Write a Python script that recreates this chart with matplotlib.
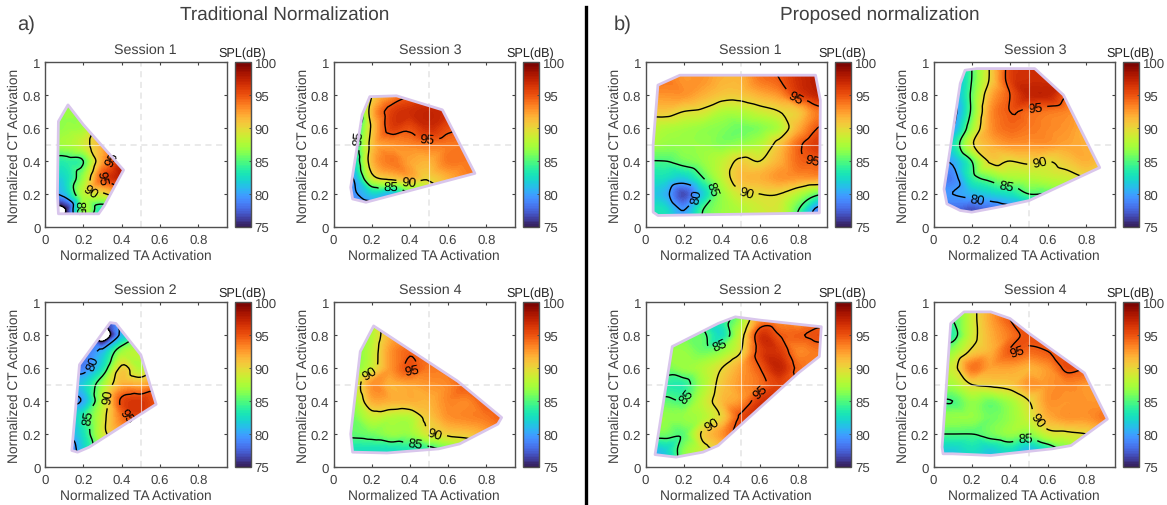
#!/usr/bin/python3
# -*-coding: utf-8 -*

import numpy as np
import matplotlib
matplotlib.use('Agg')
import matplotlib.pyplot as plt
import matplotlib.tri as mtri
from matplotlib.patches import Polygon

plt.rcParams['font.family'] = ['Liberation Sans', 'DejaVu Sans']
plt.rcParams['text.hinting'] = 'none'

# SPL on a 0.1 grid: rows are CT = 0.9 ... 0, columns TA = 0 ... 0.9
ta_axis = [0.0, 0.1, 0.2, 0.3, 0.4, 0.5, 0.6, 0.7, 0.8, 0.9]
ct_axis = [0.9, 0.8, 0.7, 0.6, 0.5, 0.4, 0.3, 0.2, 0.1, 0.0]

trad_s1 = [[86, 87, 88, 90, 92, 92, 92, 92, 92, 92],
           [86, 87, 88, 90, 92, 92, 92, 92, 92, 92],
           [86, 87, 87, 88, 91, 92, 92, 92, 92, 92],
           [86, 87, 87.5, 91, 92, 92, 92, 92, 92, 92],
           [87, 87.5, 89, 92, 93, 93, 93, 93, 93, 93],
           [84, 84, 85, 92.5, 97, 97, 97, 97, 97, 97],
           [83, 82.5, 87, 95.2, 98, 99, 99, 99, 99, 99],
           [80, 81, 88, 89.5, 92, 91, 91, 91, 91, 91],
           [79, 74.5, 87, 83, 85, 85, 85, 85, 85, 85],
           [84, 79, 87, 82, 85, 85, 85, 85, 85, 85]]

trad_s2 = [[78, 78, 76, 76, 82, 85, 85, 85, 85, 85],
           [78, 78, 78, 72, 81, 85, 88, 88, 88, 88],
           [79, 79, 78.5, 81, 87, 88.5, 89, 89, 89, 89],
           [80, 80, 79, 83, 90.5, 88, 91, 91, 91, 91],
           [80, 80, 82, 87, 92, 92, 94, 94, 94, 94],
           [79, 79, 80.5, 88, 95.5, 96.5, 95, 95, 95, 95],
           [80, 80, 84, 89, 94, 96, 94, 94, 94, 94],
           [80, 80, 83, 89, 92, 93, 93, 93, 93, 93],
           [77, 77, 82, 87, 90, 90, 90, 90, 90, 90],
           [77, 77, 82, 87, 90, 90, 90, 90, 90, 90]]

trad_s3 = [[84, 84, 90, 93, 95, 95, 95, 95, 95, 95],
           [84, 84, 90, 93, 95, 96, 96, 96, 96, 96],
           [80, 80, 91.5, 96, 97, 97.5, 97, 97, 97, 97],
           [82, 82, 90.5, 96, 95.5, 97, 95.5, 95, 95, 95],
           [82.5, 82.5, 91, 93, 93.5, 94, 94, 94, 94, 94],
           [82, 82, 91.5, 94, 92.5, 92, 94, 94, 94, 94],
           [80, 80, 89, 91, 92, 90.5, 92, 93.5, 94, 94],
           [79.5, 79.5, 82, 81, 85, 88, 90, 92, 92, 92],
           [78, 78, 78, 80, 82, 84, 86, 88, 88, 88],
           [78, 78, 78, 80, 82, 84, 86, 88, 88, 88]]

trad_s4 = [[85, 85, 88, 92, 93, 93, 93, 93, 93, 93],
           [85, 85, 88, 92, 93, 93, 93, 93, 93, 93],
           [86, 86, 88.5, 93, 94.7, 94.5, 94, 94, 94, 94],
           [86, 86, 89, 93, 95.3, 94, 94, 95, 95, 95],
           [88, 88, 93, 92, 92.5, 93, 93.5, 95, 95, 95],
           [87, 87, 92, 92, 92, 92, 93.5, 93.5, 95, 95],
           [86, 86, 88.5, 88, 88, 91, 93, 93.5, 94, 95],
           [85.5, 85.5, 86, 87, 87, 89.5, 90.5, 91, 92, 93],
           [83, 83, 83, 83, 83.5, 84, 85.5, 87, 88, 88],
           [83, 83, 83, 83, 83.5, 84, 85.5, 87, 88, 88]]

prop_s1 = [[94, 94, 93, 93, 92, 92, 94, 95, 97, 98],
           [93, 93, 93, 92, 91, 91, 92, 93, 96, 97.5],
           [91, 91, 90, 89.5, 88, 88, 89, 90, 91, 94],
           [89, 88, 87.5, 87, 86.5, 86, 86.5, 88, 92, 95],
           [88, 87, 87, 87, 86.5, 87, 88, 91, 94.5, 96.5],
           [85, 85, 86, 87, 88.5, 90.5, 90, 92, 94.5, 95],
           [83, 83, 82, 85, 88.5, 91.5, 92, 93, 93, 93],
           [82, 81, 77, 82, 87, 89.5, 90, 90, 88, 85.5],
           [83, 83, 80, 85, 87, 88, 89, 89, 85, 79],
           [83, 83, 80, 85, 87, 88, 89, 89, 85, 79]]

prop_s2 = [[85, 85, 85, 84, 84, 87, 93, 93, 92, 94],
           [85, 85, 86, 85.5, 83, 89, 96.5, 95, 94.8, 95.5],
           [87, 87, 87, 86, 87, 90, 96, 96.5, 93.5, 94],
           [86, 86, 87, 88, 90, 92.5, 95, 97.5, 94.5, 93.5],
           [84, 84, 84, 87.5, 91, 93, 94.3, 96, 95, 94],
           [85.5, 85.5, 85.2, 88.5, 91.5, 93, 96.5, 97, 96, 95],
           [87, 87, 87, 88, 90.5, 95.5, 97.5, 97, 96, 95],
           [86, 86, 85.5, 90.5, 93, 96, 96, 96, 96, 95],
           [80, 82, 86.5, 89, 90.5, 93, 93, 93, 93, 93],
           [80, 82, 86.5, 89, 90.5, 93, 93, 93, 93, 93]]

prop_s3 = [[80, 80, 85, 90.5, 96, 97, 97, 97, 97, 97],
           [80, 80, 85.5, 92, 95, 97.5, 97.5, 95, 95, 95],
           [79, 79, 85.5, 93, 95, 94.5, 94, 93.5, 93, 93],
           [80, 80, 87, 93, 94.5, 94, 93.5, 93, 92, 92],
           [83, 83, 89.5, 92, 93, 93, 93, 92.5, 92, 90],
           [80.5, 80.5, 85, 90.5, 90, 90.5, 90, 91, 92, 91],
           [79, 79, 84, 86, 87.5, 88, 88.5, 89, 90, 90],
           [80, 80, 81, 82, 83, 85, 85, 86, 87, 87],
           [78, 78, 77, 78, 79, 80, 81, 82, 83, 83],
           [78, 78, 77, 78, 79, 80, 81, 82, 83, 83]]

prop_s4 = [[85, 85, 89, 92.5, 95, 96, 96, 96, 96, 96],
           [84, 84, 89, 92, 94, 95.5, 95, 95, 95, 95],
           [87, 87, 90.5, 92, 95, 94.5, 95, 95, 95, 95],
           [89, 89, 94, 92.5, 92.5, 92, 93, 95.5, 95, 95],
           [87.5, 87.5, 90, 90.5, 91, 93, 93, 93.5, 93, 93],
           [85, 85, 87, 86, 87.5, 90, 93, 93, 93, 93],
           [87, 87, 87, 86, 87, 89, 92, 93, 93, 94],
           [85, 85, 85, 86, 87, 86.5, 89, 89.5, 90, 91],
           [82, 82, 83, 82, 83, 81, 83, 86, 88, 88],
           [82, 82, 83, 82, 83, 81, 83, 86, 88, 88]]

# outlines of the covered area
hull_trad_s1 = [(0.07, 0.08), (0.065, 0.2), (0.07, 0.64), (0.12, 0.74), (0.2, 0.62), (0.41, 0.345), (0.31, 0.13), (0.28, 0.08)]
hull_trad_s2 = [(0.14, 0.1), (0.17, 0.09), (0.23, 0.12), (0.58, 0.38), (0.5, 0.68), (0.37, 0.87), (0.34, 0.875), (0.18, 0.62)]
hull_trad_s3 = [(0.1, 0.17), (0.09, 0.24), (0.15, 0.68), (0.19, 0.79), (0.33, 0.795), (0.57, 0.71), (0.74, 0.325), (0.17, 0.15)]
hull_trad_s4 = [(0.1, 0.09), (0.09, 0.2), (0.14, 0.7), (0.21, 0.855), (0.65, 0.52), (0.88, 0.3), (0.86, 0.26), (0.66, 0.14), (0.55, 0.11), (0.28, 0.085)]
hull_prop_s1 = [(0.04, 0.09), (0.065, 0.07), (0.91, 0.085), (0.915, 0.77), (0.89, 0.92), (0.18, 0.92), (0.065, 0.86), (0.04, 0.5)]
hull_prop_s2 = [(0.05, 0.075), (0.16, 0.06), (0.3, 0.09), (0.38, 0.13), (0.8, 0.57), (0.91, 0.67), (0.92, 0.85), (0.6, 0.89), (0.47, 0.91), (0.38, 0.87), (0.14, 0.73)]
hull_prop_s3 = [(0.07, 0.14), (0.055, 0.23), (0.14, 0.87), (0.165, 0.95), (0.225, 0.96), (0.53, 0.96), (0.68, 0.8), (0.87, 0.36), (0.5, 0.16), (0.36, 0.125), (0.2, 0.09), (0.14, 0.1)]
hull_prop_s4 = [(0.05, 0.08), (0.045, 0.12), (0.09, 0.87), (0.16, 0.94), (0.3, 0.94), (0.4, 0.9), (0.5, 0.81), (0.79, 0.57), (0.91, 0.29), (0.72, 0.13), (0.62, 0.11), (0.3, 0.07), (0.1, 0.08)]

# where the contour labels sit
labels_trad_s1 = [(0.18, 0.12), (0.24, 0.22), (0.29, 0.3), (0.33, 0.42)]
labels_trad_s2 = [(0.26, 0.63), (0.235, 0.3), (0.33, 0.43), (0.47, 0.35)]
labels_trad_s3 = [(0.14, 0.54), (0.3, 0.24), (0.4, 0.33), (0.49, 0.55)]
labels_trad_s4 = [(0.18, 0.59), (0.53, 0.2), (0.43, 0.15), (0.41, 0.585)]
labels_prop_s1 = [(0.31, 0.22), (0.26, 0.19), (0.53, 0.22), (0.79, 0.8), (0.87, 0.4)]
labels_prop_s2 = [(0.39, 0.74), (0.19, 0.45), (0.35, 0.25), (0.6, 0.46)]
labels_prop_s3 = [(0.23, 0.16), (0.38, 0.25), (0.55, 0.41), (0.53, 0.74)]
labels_prop_s4 = [(0.48, 0.17), (0.53, 0.27), (0.43, 0.72)]

contour_levels = [75, 80, 85, 90, 95]
fill_levels = np.arange(75, 100.01, 0.25)
ct_ticks = [0, 0.2, 0.4, 0.6, 0.8, 1]
ct_tick_labels = ['0', '0.2', '0.4', '0.6', '0.8', '1']
ta_ticks = [0, 0.2, 0.4, 0.6, 0.8]
ta_tick_labels = ['0', '0.2', '0.4', '0.6', '0.8']
bar_ticks = [75, 80, 85, 90, 95, 100]

TEXT = '#404040'
W, H = 1167, 506


def px_axes(fig, x0, y0, x1, y1):
    return fig.add_axes([x0 / W, 1 - y1 / H, (x1 - x0) / W, (y1 - y0) / H])


def draw_panel(fig, box, bar_box, title, title_x, spl, hull, label_pos):
    x0, y0, x1, y1 = box
    ax = px_axes(fig, x0, y0, x1, y1)
    ax.set_xlim(0, 0.95)
    ax.set_ylim(0, 1)

    # pad one row/column so the hull edge is still inside the grid
    ta = np.array(ta_axis + [1.0])
    ct = np.array(ct_axis[::-1] + [1.0])
    z = np.array(spl, dtype=float)[::-1]
    z = np.pad(z, ((0, 1), (0, 1)), mode='edge')
    tx, ty = np.meshgrid(ta, ct)
    triang = mtri.Triangulation(tx.ravel(), ty.ravel())
    refiner = mtri.UniformTriRefiner(triang)
    interp = mtri.CubicTriInterpolator(triang, z.ravel(), kind='geom')
    fine_tri, fine_z = refiner.refine_field(z.ravel(), triinterpolator=interp, subdiv=3)

    outline = Polygon(hull, closed=True, facecolor='none', edgecolor='#d9c6ec', linewidth=2.0, joinstyle='round', zorder=5)
    ax.add_patch(outline)

    filled = ax.tricontourf(fine_tri, fine_z, levels=fill_levels, cmap='turbo', vmin=75, vmax=100, antialiased=False, zorder=1)
    filled.set_clip_path(outline)
    lines = ax.tricontour(fine_tri, fine_z, levels=contour_levels, colors='black', linewidths=1.0, zorder=2)
    lines.set_clip_path(outline)
    ax.clabel(lines, inline=True, fontsize=9.5, manual=label_pos, fmt='%d', colors='black')

    # dashed guides stay under the map, thin white line where they cross it
    ax.axvline(0.5, color='#e4e4e4', linewidth=1.1, linestyle=(0, (4, 3)), zorder=0.5)
    ax.axhline(0.5, color='#e4e4e4', linewidth=1.1, linestyle=(0, (4, 3)), zorder=0.5)
    for guide in (ax.axvline(0.5, color='white', linewidth=0.8, alpha=0.6, zorder=4),
                  ax.axhline(0.5, color='white', linewidth=0.8, alpha=0.6, zorder=4)):
        guide.set_clip_path(outline)

    ax.set_xticks(ta_ticks, ta_tick_labels)
    ax.set_yticks(ct_ticks, ct_tick_labels)
    ax.tick_params(direction='in', length=2.5, width=0.8, top=True, right=True, labelsize=9.5, colors=TEXT)
    ax.tick_params(axis='x', pad=4.5)
    ax.tick_params(axis='y', pad=3)
    ax.set_xlabel('Normalized TA Activation', fontsize=9.9, color=TEXT, labelpad=2.5)
    ax.set_ylabel('Normalized CT Activation', fontsize=9.9, color=TEXT, labelpad=1)
    for s in ax.spines.values():
        s.set_color('#505050')
        s.set_linewidth(1.0)

    fig.text(title_x / W, 1 - (y0 - 13) / H, title, fontsize=10.3, color=TEXT, ha='center', va='center')

    cax = px_axes(fig, *bar_box)
    bar = fig.colorbar(filled, cax=cax, ticks=bar_ticks)
    bar.solids.set_edgecolor('face')
    bar.ax.tick_params(direction='in', length=1.5, width=0.6, labelsize=9.5, colors=TEXT, pad=3)
    bar.outline.set_edgecolor('#505050')
    bar.outline.set_linewidth(1.0)
    fig.text((bar_box[0] + bar_box[2]) / 2 / W, 1 - (y0 - 9.5) / H, 'SPL(dB)', fontsize=9.1, color='#222222', ha='center', va='center')


fig = plt.figure(figsize=(W / 100, H / 100), dpi=100)

top = (63, 228)
bottom = (303, 468)

draw_panel(fig, (45, top[0], 227, top[1]), (234.5, top[0], 250.5, top[1]), 'Session 1', 145, trad_s1, hull_trad_s1, labels_trad_s1)
draw_panel(fig, (333.5, top[0], 515, top[1]), (522.5, top[0], 539, top[1]), 'Session 3', 430, trad_s3, hull_trad_s3, labels_trad_s3)
draw_panel(fig, (45, bottom[0], 227, bottom[1]), (234.5, bottom[0], 250.5, bottom[1]), 'Session 2', 145, trad_s2, hull_trad_s2, labels_trad_s2)
draw_panel(fig, (333.5, bottom[0], 515, bottom[1]), (522.5, bottom[0], 539, bottom[1]), 'Session 4', 430, trad_s4, hull_trad_s4, labels_trad_s4)
draw_panel(fig, (645.5, top[0], 827, top[1]), (834.5, top[0], 851, top[1]), 'Session 1', 750, prop_s1, hull_prop_s1, labels_prop_s1)
draw_panel(fig, (933.5, top[0], 1115, top[1]), (1122.5, top[0], 1139, top[1]), 'Session 3', 1035, prop_s3, hull_prop_s3, labels_prop_s3)
draw_panel(fig, (645.5, bottom[0], 827, bottom[1]), (834.5, bottom[0], 851, bottom[1]), 'Session 2', 750, prop_s2, hull_prop_s2, labels_prop_s2)
draw_panel(fig, (933.5, bottom[0], 1115, bottom[1]), (1122.5, bottom[0], 1139, bottom[1]), 'Session 4', 1035, prop_s4, hull_prop_s4, labels_prop_s4)

fig.text(285 / W, 1 - 15 / H, 'Traditional Normalization', fontsize=13.7, color=TEXT, ha='center', va='center')
fig.text(880 / W, 1 - 15 / H, 'Proposed normalization', fontsize=13.7, color=TEXT, ha='center', va='center')
fig.text(17 / W, 1 - 25 / H, 'a)', fontsize=14.5, color=TEXT, ha='left', va='center')
fig.text(614 / W, 1 - 25 / H, 'b)', fontsize=14.5, color=TEXT, ha='left', va='center')

# black divider between the two groups
fig.add_artist(plt.Line2D([586 / W, 586 / W], [1 - 8 / H, 1 - 505 / H], color='black', linewidth=2.4, transform=fig.transFigure))

plt.savefig('out.png', dpi=100)
plt.close(fig)
